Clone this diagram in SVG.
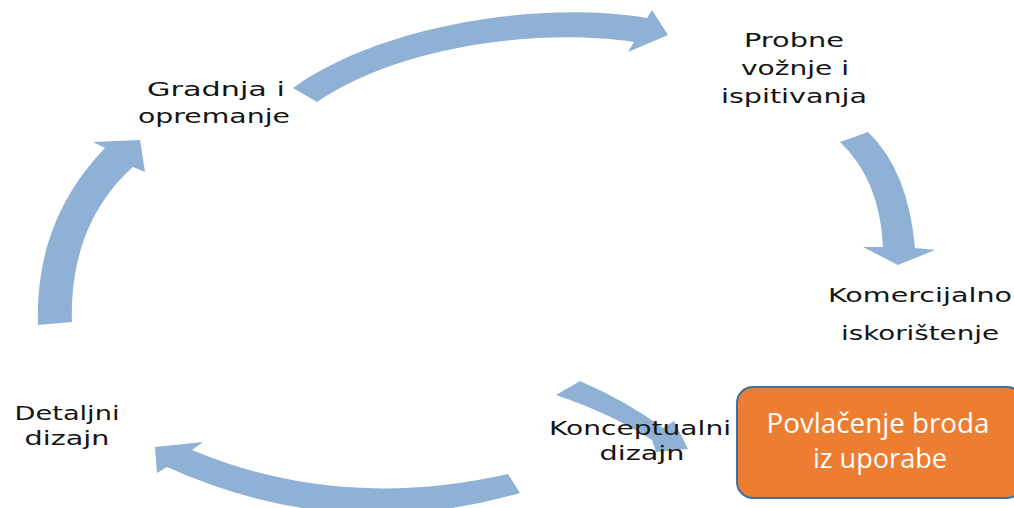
<svg xmlns="http://www.w3.org/2000/svg" width="1014" height="508" viewBox="0 0 1014 508">
<style>
.arr{fill:#8FB1D5;stroke:none}
.lbl{font-family:"DejaVu Sans","Liberation Sans",sans-serif;font-size:19px;fill:#141414;text-anchor:middle}
.box{fill:#ED7D31;stroke:#41719C;stroke-width:2}
.btxt{font-family:"Open Sans","Liberation Sans",sans-serif;font-size:27px;fill:#FFFFFF;text-anchor:middle}
</style>
<rect width="1014" height="508" fill="#FFFFFF"/>
<g id="connectors">
<path class="arr" d="M293,88 C380,25 540,0 647,18 L652,10 L668,35 L628,52 L634,42 C540,28 400,45 317,102 Z"/>
<path class="arr" d="M840,142 Q880,180 883,247 L863,247 L898,265 L935,250 L915,248 Q908,170 868,132 Z"/>
<path class="arr" d="M580,381 Q628,402 663,428 L674,421 L688,449 L656,452 L652,440 Q612,414 556,395 Z"/>
<path class="arr" d="M508,474 Q340,512 192,450 L203,442 L155,447 L157,473 L167,467 Q340,545 520,493 Z"/>
<path class="arr" d="M38,325 C36,260 55,200 105,148 L93,142 L140,140 L145,172 L133,167 C90,205 70,260 72,322 Z"/>
</g>
<g id="node-probne">
<text class="lbl" x="794" y="47" textLength="100" lengthAdjust="spacingAndGlyphs">Probne</text>
<text class="lbl" x="795" y="75" textLength="108" lengthAdjust="spacingAndGlyphs">vožnje i</text>
<text class="lbl" x="794" y="103" textLength="146" lengthAdjust="spacingAndGlyphs">ispitivanja</text>
</g>
<g id="node-gradnja">
<text class="lbl" x="216" y="96" textLength="138" lengthAdjust="spacingAndGlyphs">Gradnja i</text>
<text class="lbl" x="214" y="123" textLength="152" lengthAdjust="spacingAndGlyphs">opremanje</text>
</g>
<g id="node-komercijalno">
<text class="lbl" x="920" y="302" textLength="184" lengthAdjust="spacingAndGlyphs">Komercijalno</text>
<text class="lbl" x="920" y="340" textLength="158" lengthAdjust="spacingAndGlyphs">iskorištenje</text>
</g>
<g id="node-detaljni">
<text class="lbl" x="67" y="420" textLength="105" lengthAdjust="spacingAndGlyphs">Detaljni</text>
<text class="lbl" x="67" y="445" textLength="85" lengthAdjust="spacingAndGlyphs">dizajn</text>
</g>
<g id="node-konceptualni">
<text class="lbl" x="640" y="435" textLength="182" lengthAdjust="spacingAndGlyphs">Konceptualni</text>
<text class="lbl" x="642" y="460" textLength="85" lengthAdjust="spacingAndGlyphs">dizajn</text>
</g>
<g id="node-povlacenje">
<rect class="box" x="737" y="387" width="286" height="111" rx="16" ry="16"/>
<text class="btxt" x="878" y="433" textLength="223" lengthAdjust="spacingAndGlyphs">Povlačenje broda</text>
<text class="btxt" x="880" y="468" textLength="134" lengthAdjust="spacingAndGlyphs">iz uporabe</text>
</g>
</svg>
